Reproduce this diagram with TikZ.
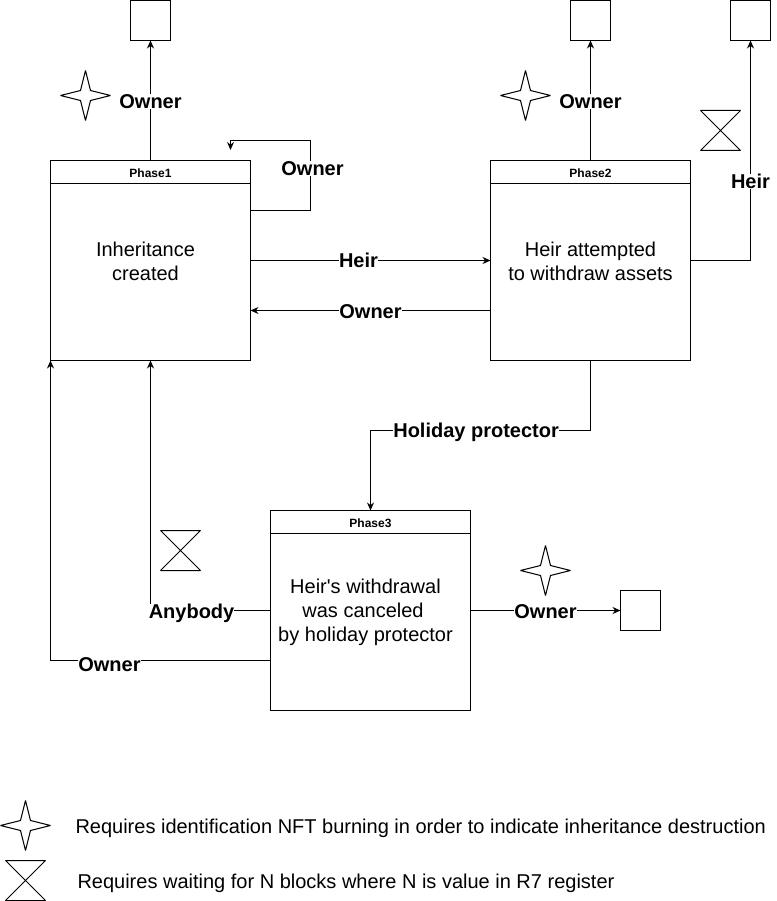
\documentclass[tikz,border=0pt]{standalone}
\usepackage{fontspec}
\setmainfont{Liberation Sans}
\usetikzlibrary{arrows.meta,calc,positioning}

\begin{document}
\begin{tikzpicture}[
	  x=1pt,y=-1pt,line width=1pt,
	  every node/.style={align=center,font=\fontsize{20}{24}\selectfont},
	  phase/.style={draw,minimum width=200pt,minimum height=200pt,anchor=north west,inner sep=0pt,outer sep=0pt},
	  header/.style={draw,minimum width=200pt,minimum height=23pt,anchor=north west,inner sep=0pt,outer sep=0pt,text height=11.5pt,text depth=0pt,font=\fontsize{12}{14}\bfseries\selectfont},
	  body/.style={font=\fontsize{20}{24}\selectfont},
	  sink/.style={draw,minimum width=40pt,minimum height=40pt,anchor=north west,inner sep=0pt,outer sep=0pt},
	  role/.style={fill=white,inner sep=0pt,font=\fontsize{20}{24}\bfseries\selectfont},
	  star/.style={draw,line join=bevel},
	  hourglass/.style={draw,line join=bevel},
	  to/.style={-{Stealth[length=8pt,width=7pt]},draw=black}]

	  \useasboundingbox (0,0) rectangle (776,901);

	  % phases
	  \node[phase] (phase1) at (50.5,160.5) {};
	  \node[header] (head1) at (50.5,160.5) {Phase1};
	  \node[phase] (phase2) at (490.5,160.5) {};
	  \node[header] (head2) at (490.5,160.5) {Phase2};
	  \node[phase] (phase3) at (270.5,510.5) {};
	  \node[header] (head3) at (270.5,510.5) {Phase3};

	  \node[body] (text1) at (145.5,261) {Inheritance\\created};
	  \node[body] (text2) at (590.5,261) {Heir attempted\\to withdraw assets};
	  \node[body] (text3) at (365.5,612) {Heir\textquotesingle s withdrawal\\was canceled\rule{5pt}{0pt}\\by holiday protector};

	  % final states
	  \node[sink] (sink1) at (130.5,0.5) {};
	  \node[sink] (sink2) at (570.5,0.5) {};
	  \node[sink] (sink3) at (730.5,0.5) {};
	  \node[sink] (sink4) at (620.5,590.5) {};

	  % connectors
	  \coordinate (selfa) at (250.5,210.5);
	  \coordinate (selfb) at (310.5,210.5);
	  \coordinate (selfc) at (310.5,140.5);
	  \coordinate (selfd) at (230.5,140.5);
	  \coordinate (selfe) at (230.5,150);
	  \draw[to] (selfa) -- (selfb) -- node[role,pos=0.6,xshift=2pt] (lself) {Owner} (selfc) -- (selfd) -- (selfe);

	  \draw[to] (150.5,160.5) -- node[role,pos=0.5,yshift=-1pt] (lown1) {Owner} (sink1);
	  \draw[to] (590.5,160.5) -- node[role,pos=0.5,yshift=-1pt] (lown2) {Owner} (sink2);
	  \draw[to] (690.5,260.5) -| node[role,pos=0.68] (lheir2) {Heir} (sink3);

	  \draw[to] (250.5,260.5) -- node[role,pos=0.45] (lheir) {Heir} (490.5,260.5);
	  \draw[to] (490.5,310.5) -- node[role,pos=0.5,yshift=-1pt] (lown3) {Owner} (250.5,310.5);

	  \coordinate (hp) at (370.5,430.5);
	  \draw[to] (590.5,360.5) |- node[role,pos=0.76,yshift=-2pt] (lhol) {Holiday protector} (hp) -- (370.5,510.5);

	  \draw[to] (270.5,610.5) -| node[role,pos=0.329,yshift=-3pt] (lany) {Anybody} (150.5,360.5);
	  \draw[to] (270.5,660.5) -| node[role,pos=0.366,yshift=-4pt] (lown4) {Owner} (50.5,360.5);
	  \draw[to] (470.5,610.5) -- node[role,pos=0.5,yshift=-1pt] (lown5) {Owner} (sink4);

	  % markers
	  \foreach \cx/\cy in {85.5/95.5,525.5/95.5,545.5/570.5,25.5/825.5}
	    \draw[star] (\cx-25,\cy) -- (\cx-5,\cy-5) -- (\cx,\cy-25) -- (\cx+5,\cy-5) -- (\cx+25,\cy) -- (\cx+5,\cy+5) -- (\cx,\cy+25) -- (\cx-5,\cy+5) -- cycle;
	  \foreach \cx/\cy in {720.5/130.5,180.5/550.5,25.5/880.5}
	    \draw[hourglass] (\cx-20,\cy-20) -- (\cx+20,\cy-20) -- (\cx-20,\cy+20) -- (\cx+20,\cy+20) -- cycle;

	  % legend
	  \node[anchor=west,inner sep=0pt] (legend1) at (75,828) {Requires identification NFT burning in order to indicate inheritance destruction};
	  \node[anchor=west,inner sep=0pt] (legend2) at (77,883) {Requires waiting for N blocks where N is value in R7 register};
\end{tikzpicture}
\end{document}
